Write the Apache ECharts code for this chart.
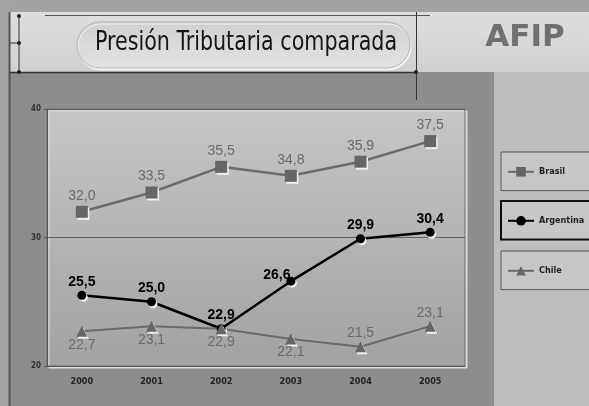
<!DOCTYPE html>
<html>
<head>
<meta charset="utf-8">
<script src="https://cdn.jsdelivr.net/npm/echarts@6/dist/echarts.min.js"></script>
<style>
  html, body { margin: 0; padding: 0; background: #8d8d8d; }
  #chart { width: 589px; height: 406px; }
</style>
</head>
<body>
<div id="chart"></div>
<script>
var years = ["2000", "2001", "2002", "2003", "2004", "2005"];
var brasil = [32.0, 33.5, 35.5, 34.8, 35.9, 37.5];
var argentina = [25.5, 25.0, 22.9, 26.6, 29.9, 30.4];
var chile = [22.7, 23.1, 22.9, 22.1, 21.5, 23.1];
var yTicks = [20, 30, 40];

function fmt(p) {
    return p.value.toFixed(1).replace(".", ",");
}

// label placement per point (style only)
var chilePos = ["bottom", "bottom", "bottom", "bottom", "top", "top"];

var markShadow = {
    shadowColor: "#efefef",
    shadowBlur: 0,
    shadowOffsetX: 1.5,
    shadowOffsetY: 2
};

function boxLegend(name, top, border, bw) {
    return {
        data: [name],
        left: 501,
        top: top,
        orient: "vertical",
        padding: [15, 40, 14, 6],
        itemWidth: 26,
        itemHeight: 12,
        backgroundColor: "#c6c6c6",
        borderColor: border,
        borderWidth: bw,
        textStyle: {
            fontFamily: "DejaVu Sans Condensed",
            fontWeight: "bold",
            fontSize: 9,
            color: "#222"
        }
    };
}

var option = {
    backgroundColor: "#8d8d8d",
    animation: false,
    graphic: [
        // top strip
        { type: "rect", z: -10, shape: { x: 0, y: 0, width: 589, height: 12 }, style: { fill: "#a3a3a3" } },
        // left strip
        { type: "rect", z: -10, shape: { x: 0, y: 0, width: 9, height: 406 }, style: { fill: "#a4a4a4" } },
        // header band
        { type: "rect", z: -10, shape: { x: 9, y: 12, width: 580, height: 60 },
          style: { fill: new echarts.graphic.LinearGradient(0, 0, 0, 1, [
              { offset: 0, color: "#dedede" }, { offset: 1, color: "#d0d0d0" }]) } },
        // right light panel
        { type: "rect", z: -10, shape: { x: 494, y: 72, width: 95, height: 334 }, style: { fill: "#bdbdbd" } },
        // left vertical line
        { type: "line", z: 10, shape: { x1: 9.5, y1: 12, x2: 9.5, y2: 406 }, style: { stroke: "#555", lineWidth: 2 } },
        // header lines
        { type: "line", z: 10, shape: { x1: 45, y1: 15.5, x2: 430, y2: 15.5 }, style: { stroke: "#555", lineWidth: 1 } },
        { type: "line", z: 10, shape: { x1: 10, y1: 72.5, x2: 416, y2: 72.5 }, style: { stroke: "#333", lineWidth: 1.5 } },
        { type: "line", z: 10, shape: { x1: 416.5, y1: 12, x2: 416.5, y2: 100 }, style: { stroke: "#333", lineWidth: 1 } },
        { type: "line", z: 10, shape: { x1: 19, y1: 15, x2: 19, y2: 72 }, style: { stroke: "#333", lineWidth: 1 } },
        { type: "line", z: 10, shape: { x1: 19, y1: 43, x2: 10, y2: 43 }, style: { stroke: "#333", lineWidth: 1 } },
        { type: "circle", z: 10, shape: { cx: 19, cy: 16, r: 2 }, style: { fill: "#222" } },
        { type: "circle", z: 10, shape: { cx: 19, cy: 43, r: 2 }, style: { fill: "#222" } },
        { type: "circle", z: 10, shape: { cx: 19, cy: 72, r: 2 }, style: { fill: "#222" } },
        { type: "circle", z: 10, shape: { cx: 416, cy: 72, r: 2 }, style: { fill: "#222" } },
        // title pill
        { type: "rect", z: 5, shape: { x: 77, y: 22, width: 333, height: 46, r: 23 },
          style: {
              fill: new echarts.graphic.LinearGradient(0, 0, 0, 1, [
                  { offset: 0, color: "#cfcfcf" }, { offset: 0.5, color: "#dadada" }, { offset: 1, color: "#e2e2e2" }]),
              stroke: "#b4b4b4", lineWidth: 1,
              shadowColor: "#f4f4f4", shadowOffsetX: 1, shadowOffsetY: 2, shadowBlur: 0
          } },
        { type: "text", z: 6, x: 246, y: 43, scaleX: 0.85,
          style: { text: "Presión Tributaria comparada", fill: "#151515", align: "center", verticalAlign: "middle",
                   font: "27px 'DejaVu Sans Condensed'" } },
        // logo
        { type: "text", z: 6, x: 525, y: 38,
          style: { text: "AFIP", fill: "#707070", align: "center", verticalAlign: "middle",
                   font: "bold 31px 'DejaVu Sans'" } }
    ],
    legend: [
        boxLegend("Brasil", 152, "#555", 1),
        boxLegend("Argentina", 201, "#111", 2),
        boxLegend("Chile", 251, "#555", 1)
    ],
    grid: {
        left: 47,
        top: 109,
        right: 124,
        bottom: 40,
        show: true,
        backgroundColor: new echarts.graphic.LinearGradient(0, 0, 0, 1, [
            { offset: 0, color: "#c6c6c6" }, { offset: 1, color: "#a2a2a2" }]),
        borderColor: "#6a6a6a",
        borderWidth: 1,
        shadowColor: "#dedede",
        shadowBlur: 0,
        shadowOffsetX: 2,
        shadowOffsetY: 2
    },
    xAxis: {
        type: "category",
        data: years,
        boundaryGap: true,
        axisLine: { lineStyle: { color: "#555", width: 1 } },
        axisTick: { length: 3, lineStyle: { color: "#555" } },
        axisLabel: {
            margin: 11,
            fontFamily: "DejaVu Sans Condensed",
            fontWeight: "bold",
            fontSize: 9,
            color: "#222"
        }
    },
    yAxis: {
        type: "value",
        min: yTicks[0],
        max: yTicks[yTicks.length - 1],
        interval: 10,
        axisLine: { show: true, lineStyle: { color: "#555" } },
        axisTick: { show: true, length: 3, lineStyle: { color: "#555" } },
        axisLabel: {
            margin: 6,
            fontFamily: "DejaVu Sans Condensed",
            fontWeight: "bold",
            fontSize: 8,
            color: "#333"
        },
        splitLine: { lineStyle: { color: "#5e5e5e", width: 1 } }
    },
    series: [
        {
            name: "Brasil",
            type: "line",
            data: brasil,
            symbol: "rect",
            symbolSize: 12,
            lineStyle: { color: "#6c6c6c", width: 2.5 },
            itemStyle: Object.assign({ color: "#666" }, markShadow),
            label: {
                show: true, position: "top", distance: 3, formatter: fmt,
                fontFamily: "Liberation Sans", fontSize: 14, color: "#6a6a6a"
            }
        },
        {
            name: "Argentina",
            type: "line",
            data: argentina.map(function (v, i) {
                return i === 3 ? { value: v, label: { offset: [-14, 7] } } : v;
            }),
            symbol: "circle",
            symbolSize: 9,
            lineStyle: { color: "#000", width: 2.5 },
            itemStyle: Object.assign({ color: "#000" }, markShadow),
            label: {
                show: true, position: "top", distance: 2, formatter: fmt,
                fontFamily: "Liberation Sans", fontWeight: "bold", fontSize: 14, color: "#000"
            }
        },
        {
            name: "Chile",
            type: "line",
            data: chile.map(function (v, i) {
                return { value: v, label: { position: chilePos[i] } };
            }),
            symbol: "triangle",
            symbolSize: 11,
            lineStyle: { color: "#6a6a6a", width: 2 },
            itemStyle: Object.assign({ color: "#666" }, markShadow),
            label: {
                show: true, distance: 1, formatter: fmt,
                fontFamily: "Liberation Sans", fontSize: 14, color: "#6a6a6a"
            }
        }
    ]
};

var chart = echarts.init(document.getElementById("chart"));
chart.setOption(option);
</script>
</body>
</html>
